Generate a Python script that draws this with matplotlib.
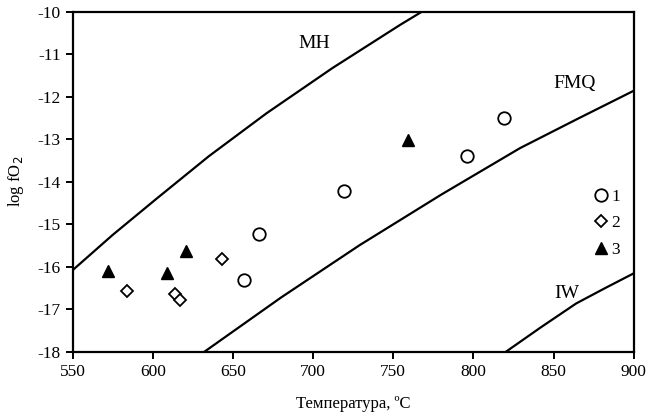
import numpy as np
import matplotlib
matplotlib.use("Agg")
from matplotlib import pyplot as plt

plt.rcParams['font.family'] = ['Liberation Serif', 'DejaVu Serif']
plt.rcParams['axes.unicode_minus'] = False

# buffer curves
mh_t = [550, 575, 602, 635, 671, 712, 754, 768]
mh_f = [-16.08, -15.25, -14.41, -13.40, -12.39, -11.33, -10.32, -10.0]
fmq_t = [632, 680, 729, 780, 829, 865, 900]
fmq_f = [-18.0, -16.72, -15.49, -14.30, -13.21, -12.52, -11.86]
iw_t = [820, 842, 864, 882, 900]
iw_f = [-18.0, -17.42, -16.86, -16.50, -16.15]

# samples
t1 = [657, 666, 719.5, 796, 819]
f1 = [-16.31, -15.23, -14.21, -13.40, -12.51]
t2 = [584, 614, 617, 643]
f2 = [-16.56, -16.64, -16.77, -15.81]
t3 = [572, 609, 620.5, 759]
f3 = [-16.09, -16.14, -15.62, -13.02]

fig = plt.figure(figsize=(6.51, 4.2), dpi=100)
ax = fig.add_axes([0.1114, 0.1619, 0.8623, 0.8107])

ax.plot(mh_t, mh_f, color='black', lw=1.6)
ax.plot(fmq_t, fmq_f, color='black', lw=1.6)
ax.plot(iw_t, iw_f, color='black', lw=1.6)

ax.text(701, -10.75, 'MH', fontsize=14, ha='center', va='center')
ax.text(863, -11.69, 'FMQ', fontsize=14, ha='center', va='center')
ax.text(858, -16.62, 'IW', fontsize=14, ha='center', va='center')

ax.plot(t1, f1, 'o', ms=9, mfc='white', mec='black', mew=1.3, ls='none', label='1')
ax.plot(t2, f2, 'D', ms=6.5, mfc='white', mec='black', mew=1.3, ls='none', label='2')
ax.plot(t3, f3, '^', ms=9, mfc='black', mec='black', ls='none', label='3')

ax.legend(loc='upper left', bbox_to_anchor=(0.917, 0.50), frameon=False,
          handlelength=0.8, handletextpad=0.2, labelspacing=0.6,
          fontsize=12.5, borderaxespad=0)

ax.set_xlim(550, 900)
ax.set_ylim(-18, -10)
ax.set_xticks(np.arange(550, 901, 50))
ax.set_yticks(np.arange(-18, -9, 1))
ax.tick_params(direction='out', length=5, width=1.4, labelsize=12.5)
for s in ax.spines.values():
    s.set_linewidth(1.6)

ax.set_xlabel('Температура, ºC', fontsize=12, labelpad=12)
ax.set_ylabel('log fO$_2$', fontsize=12, labelpad=8)

fig.savefig('out.png', dpi=100)
